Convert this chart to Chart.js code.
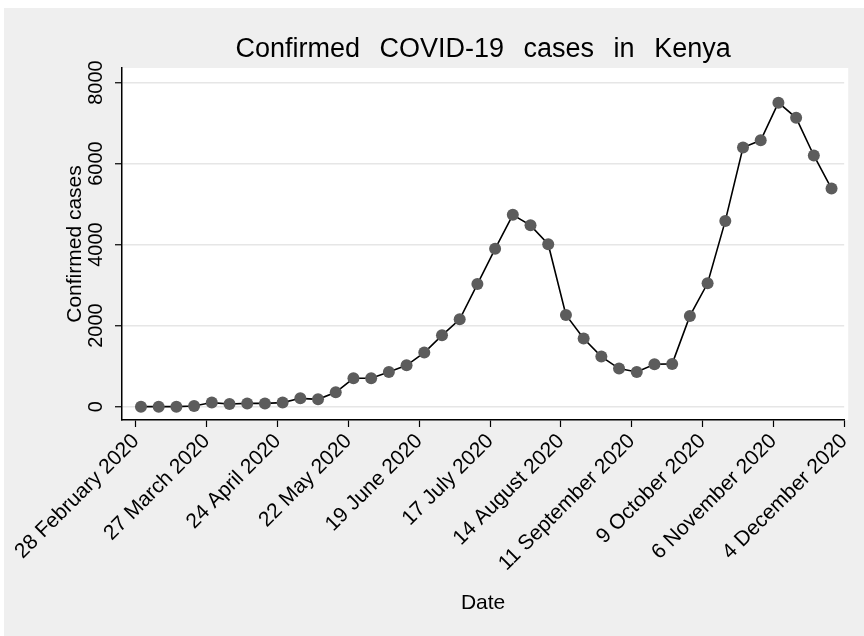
<!DOCTYPE html>
<html>
<head>
<meta charset="utf-8">
<title>Confirmed COVID-19 cases in Kenya</title>
<script src="https://cdn.jsdelivr.net/npm/chart.js@4.4.1/dist/chart.umd.min.js"></script>
<style>
  html, body { margin: 0; padding: 0; background: #ffffff; }
  #wrap {
    position: absolute;
    left: 4px;
    top: 8px;
    width: 860px;
    height: 628px;
    background: #efefef;
  }
</style>
</head>
<body>
<div id="wrap"><canvas id="casesChart"></canvas></div>
<script>
// weekly observations (week starting date)
const weekDates = [
  "2020-03-01", "2020-03-08", "2020-03-15", "2020-03-22", "2020-03-29",
  "2020-04-05", "2020-04-12", "2020-04-19", "2020-04-26", "2020-05-03",
  "2020-05-10", "2020-05-17", "2020-05-24", "2020-05-31", "2020-06-07",
  "2020-06-14", "2020-06-21", "2020-06-28", "2020-07-05", "2020-07-12",
  "2020-07-19", "2020-07-26", "2020-08-02", "2020-08-09", "2020-08-16",
  "2020-08-23", "2020-08-30", "2020-09-06", "2020-09-13", "2020-09-20",
  "2020-09-27", "2020-10-04", "2020-10-11", "2020-10-18", "2020-10-25",
  "2020-11-01", "2020-11-08", "2020-11-15", "2020-11-22", "2020-11-29",
];

const confirmedCases = [
  0, 0, 0, 15, 100, 65, 80, 80, 100, 205,
  180, 355, 700, 700, 855, 1020, 1335, 1760, 2155, 3025,
  3895, 4735, 4475, 4010, 2265, 1680, 1235, 940, 855, 1045,
  1055, 2240, 3045, 4585, 6395, 6575, 7505, 7130, 6200, 5385,
];

const tickDates = [
  "2020-02-28", "2020-03-27", "2020-04-24", "2020-05-22", "2020-06-19",
  "2020-07-17", "2020-08-14", "2020-09-11", "2020-10-09", "2020-11-06",
  "2020-12-04",
];
const tickLabels = [
  "28 February 2020", "27 March 2020", "24 April 2020", "22 May 2020",
  "19 June 2020", "17 July 2020", "14 August 2020", "11 September 2020",
  "9 October 2020", "6 November 2020", "4 December 2020",
];

const yTicks = [0, 2000, 4000, 6000, 8000];

// days since the first tick date
const origin = Date.parse(tickDates[0]);
const toDay = (d) => (Date.parse(d) - origin) / 86400000;
const tickDays = tickDates.map(toDay);

Chart.defaults.font.family = "'Liberation Sans', Arial, sans-serif";
Chart.defaults.color = "#000";

// white plot region
const plotBackground = {
  id: "plotBackground",
  beforeDraw(chart) {
    const { ctx, chartArea } = chart;
    ctx.save();
    ctx.fillStyle = "#ffffff";
    ctx.fillRect(chartArea.left, chartArea.top, chartArea.right - chartArea.left + 4, chartArea.bottom - chartArea.top);
    ctx.restore();
  },
};

const ctx = document.getElementById("casesChart").getContext("2d");

const chart = new Chart(ctx, {
  type: "line",
  data: {
    datasets: [
      {
        label: "Confirmed cases",
        data: weekDates.map((d, i) => ({ x: toDay(d), y: confirmedCases[i] })),
        borderColor: "#000000",
        borderWidth: 1.6,
        backgroundColor: "#5c5c5c",
        pointBackgroundColor: "#5c5c5c",
        pointBorderWidth: 0,
        pointRadius: 6,
        tension: 0,
      },
    ],
  },
  options: {
    responsive: true,
    maintainAspectRatio: false,
    animation: false,
    layout: {
      padding: { left: 0, right: 16, top: 0, bottom: 0 },
    },
    plugins: {
      legend: { display: false },
      tooltip: { enabled: false },
      title: {
        display: true,
        fullSize: false,
        text: "Confirmed COVID-19 cases in Kenya",
        color: "#000",
        font: { size: 27, weight: "normal" },
        padding: { top: 25, bottom: 2.6 },
      },
    },
    scales: {
      x: {
        type: "linear",
        min: -5.5,
        max: 280,
        afterBuildTicks: (scale) => {
          scale.ticks = tickDays.map((v) => ({ value: v }));
        },
        afterFit: (scale) => {
          scale.height = 216;
        },
        ticks: {
          autoSkip: false,
          minRotation: 45,
          maxRotation: 45,
          padding: 2,
          font: { size: 21 },
          color: "#000",
          callback: (value) => {
            const i = tickDays.indexOf(value);
            return i >= 0 ? tickLabels[i] : "";
          },
        },
        grid: {
          drawOnChartArea: false,
          drawTicks: true,
          tickLength: 7,
          tickColor: "#000",
          tickWidth: 1.2,
        },
        border: { color: "#000", width: 1.5 },
        title: {
          display: true,
          text: "Date",
          font: { size: 21 },
          color: "#000",
          padding: { top: 0, bottom: 20 },
        },
      },
      y: {
        min: -330,
        max: 8360,
        afterBuildTicks: (scale) => {
          scale.ticks = yTicks.map((v) => ({ value: v }));
        },
        afterFit: (scale) => {
          scale.width = 118;
        },
        ticks: {
          minRotation: 90,
          maxRotation: 90,
          crossAlign: "center",
          padding: -4,
          font: { size: 20 },
          color: "#000",
          callback: (value) => String(value),
        },
        grid: {
          color: "#e6e6e6",
          lineWidth: 1.5,
          tickLength: 7,
          tickColor: "#000",
          tickWidth: 1.2,
        },
        border: { color: "#000", width: 1.5 },
        title: {
          display: true,
          text: "Confirmed cases",
          font: { size: 21 },
          color: "#000",
          padding: { top: 59, bottom: 0 },
        },
      },
    },
  },
  plugins: [plotBackground],
});

// the original title is set with wide gaps between words
const drawTitle = chart.titleBlock.draw.bind(chart.titleBlock);
chart.titleBlock.draw = function () {
  chart.ctx.save();
  chart.ctx.wordSpacing = "12px";
  drawTitle();
  chart.ctx.restore();
};
chart.draw();
</script>
</body>
</html>
